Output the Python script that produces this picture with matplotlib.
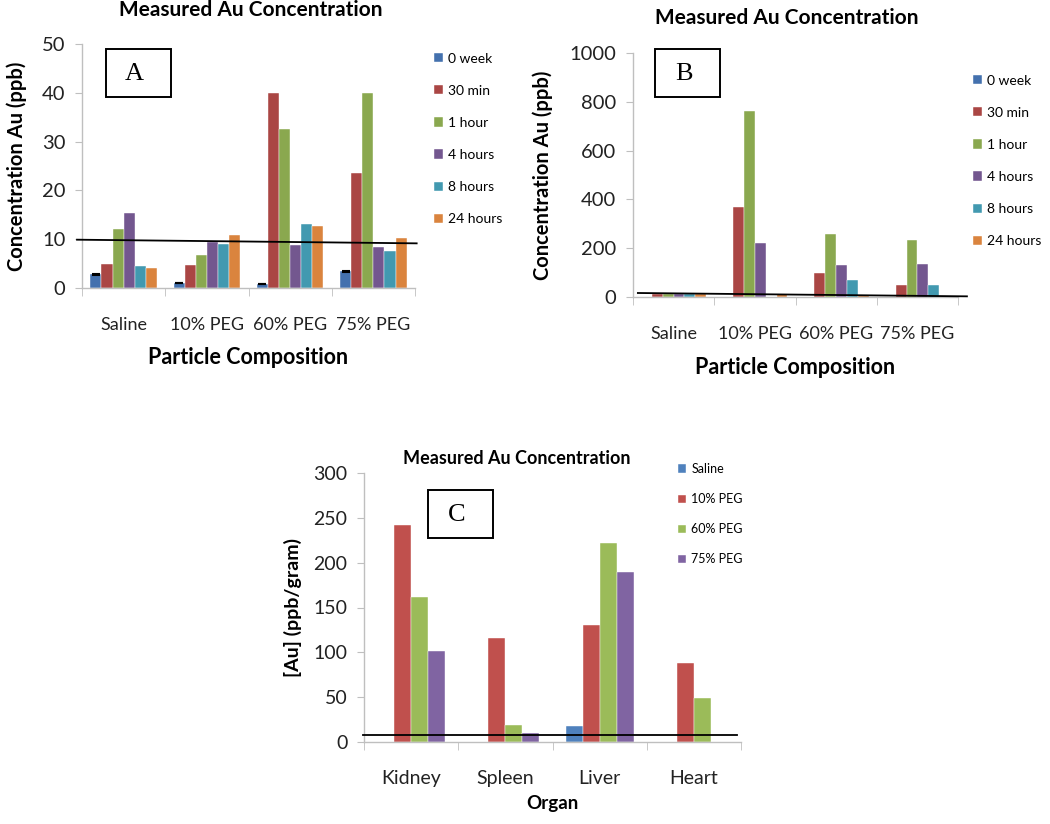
import matplotlib
matplotlib.use("Agg")
import matplotlib.pyplot as plt
from matplotlib.patches import Rectangle
import numpy as np

plt.rcParams['font.family'] = ['Lato', 'DejaVu Sans']

W, H = 1050, 824

# ---------------- data ----------------
compositions = ["Saline", "10% PEG", "60% PEG", "75% PEG"]
times = ["0 week", "30 min", "1 hour", "4 hours", "8 hours", "24 hours"]

a_0week = [2.8, 1.0, 0.8, 3.4]
a_30min = [5.0, 4.8, 40.0, 23.5]
a_1hour = [12.0, 6.7, 32.6, 40.0]
a_4hours = [15.3, 9.5, 8.9, 8.4]
a_8hours = [4.6, 9.0, 13.1, 7.5]
a_24hours = [4.1, 10.8, 12.7, 10.3]
a_0week_err = [0.1, 0.0, 0.0, 0.1]
a_line_x = [-0.56, 3.52]
a_line_y = [9.9, 9.15]

b_0week = [0, 0, 0, 0]
b_30min = [13, 367, 99, 51]
b_1hour = [13, 763, 260, 233]
b_4hours = [13, 223, 133, 134]
b_8hours = [13, 0, 71, 48]
b_24hours = [13, 14, 10, 5]
b_line_x = [-0.44, 3.61]
b_line_y = [16.4, 2.7]

organs = ["Kidney", "Spleen", "Liver", "Heart"]
groups_c = ["Saline", "10% PEG", "60% PEG", "75% PEG"]
c_saline = [0, 0, 17.5, 0]
c_10peg = [242, 116, 130, 88.5]
c_60peg = [161.5, 19, 222, 49]
c_75peg = [101, 10, 189.5, 0]
c_line_x = [-0.51, 3.46]
c_line_y = [8.2, 8.2]

colors_ab = ["#4471AE", "#AA4644", "#8AA84F", "#73578F", "#4299B0", "#DA843E"]
colors_c = ["#4F81BD", "#C0504D", "#9BBB59", "#8064A2"]

fig = plt.figure(figsize=(W / 100, H / 100), dpi=100)


def px_axes(l, r, t, b):
    return fig.add_axes([l / W, 1 - b / H, (r - l) / W, (b - t) / H])


def style_axes(ax, ymax, ystep, ysize, xsize, xpad):
    ax.set_xlim(-0.5, 3.5)
    ax.set_ylim(0, ymax)
    ax.set_yticks(np.arange(0, ymax + ystep / 2, ystep))
    for s in ["top", "right"]:
        ax.spines[s].set_visible(False)
    for s in ["left", "bottom"]:
        ax.spines[s].set_color("#BFBFBF")
        ax.spines[s].set_linewidth(1.0)
    ax.tick_params(axis="y", length=5, color="#BFBFBF", labelsize=ysize,
                   labelcolor="#222222", pad=7)
    ax.set_xticks(np.arange(4))
    ax.set_xticks(np.arange(-0.5, 4, 1), minor=True)
    ax.tick_params(axis="x", which="major", length=0, labelsize=xsize,
                   labelcolor="#222222", pad=xpad)
    ax.tick_params(axis="x", which="minor", length=6, color="#BFBFBF")


def label_box(l, t, w, h, letter):
    fig.add_artist(Rectangle((l / W, 1 - (t + h) / H), w / W, h / H,
                             transform=fig.transFigure, fill=False,
                             edgecolor="black", linewidth=1.4))
    fig.text((l + w / 2 - 4) / W, 1 - (t + h / 2 + 1) / H, letter,
             family="Liberation Serif", fontsize=19, ha="center", va="center")


def grouped(ax, series, names, width, cols, errs=None):
    n = len(series)
    x = np.arange(4)
    for i, (vals, nm) in enumerate(zip(series, names)):
        off = (i - (n - 1) / 2) * width
        yerr = errs if (errs is not None and i == 0) else None
        ax.bar(x + off, vals, width, color=cols[i], label=nm,
               edgecolor="white", linewidth=0.3, yerr=yerr,
               error_kw=dict(ecolor="black", capsize=3, elinewidth=0.8, capthick=1.5),
               zorder=2)


def set_labels_px(ax, l, r, t, b, ylab_x, xlab_y):
    ax.yaxis.set_label_coords((ylab_x - l) / (r - l), 0.5)
    ax.xaxis.set_label_coords(0.5, -(xlab_y - b) / (b - t))


# ---------------- Panel A ----------------
axA = px_axes(82, 415, 44, 288)
style_axes(axA, 50, 10, 14.5, 13, 21)
grouped(axA, [a_0week, a_30min, a_1hour, a_4hours, a_8hours, a_24hours], times,
        0.8 / 6, colors_ab, errs=a_0week_err)
axA.set_xticklabels(compositions)
axA.plot(a_line_x, a_line_y, color="black", lw=1.3, clip_on=False, zorder=3)
axA.set_ylabel("Concentration Au (ppb)", fontsize=14.5, fontweight="bold", va="center")
axA.set_xlabel("Particle Composition", fontsize=15.5, fontweight="bold", va="center")
set_labels_px(axA, 82, 415, 44, 288, 17, 358)
fig.text(251 / W, 1 - 10 / H, "Measured Au Concentration", fontsize=15,
         fontweight="bold", ha="center", va="center")
axA.legend(loc="upper left", bbox_to_anchor=(428 / W, 1 - 47 / H),
           bbox_transform=fig.transFigure, frameon=False, fontsize=10,
           handlelength=0.65, handleheight=0.65, handletextpad=0.4,
           labelspacing=1.45, borderaxespad=0)
label_box(106, 49, 65, 48, "A")

# ---------------- Panel B ----------------
axB = px_axes(633, 958, 53, 297)
style_axes(axB, 1000, 200, 14.5, 13, 21)
grouped(axB, [b_0week, b_30min, b_1hour, b_4hours, b_8hours, b_24hours], times,
        0.8 / 6, colors_ab)
axB.set_xticklabels(compositions)
axB.plot(b_line_x, b_line_y, color="black", lw=1.3, clip_on=False, zorder=3)
axB.set_ylabel("Concentration Au (ppb)", fontsize=14.5, fontweight="bold", va="center")
axB.set_xlabel("Particle Composition", fontsize=15.5, fontweight="bold", va="center")
set_labels_px(axB, 633, 958, 53, 297, 543, 367)
fig.text(787 / W, 1 - 18 / H, "Measured Au Concentration", fontsize=15,
         fontweight="bold", ha="center", va="center")
axB.legend(loc="upper left", bbox_to_anchor=(967 / W, 1 - 69 / H),
           bbox_transform=fig.transFigure, frameon=False, fontsize=10,
           handlelength=0.65, handleheight=0.65, handletextpad=0.4,
           labelspacing=1.45, borderaxespad=0)
label_box(655, 49, 65, 48, "B")

# ---------------- Panel C ----------------
axC = px_axes(364, 741, 473, 742)
style_axes(axC, 300, 50, 14, 14, 20)
grouped(axC, [c_saline, c_10peg, c_60peg, c_75peg], groups_c, 0.18, colors_c)
axC.set_xticklabels(organs)
axC.plot(c_line_x, c_line_y, color="black", lw=1.3, clip_on=False, zorder=3)
axC.set_ylabel("[Au] (ppb/gram)", fontsize=14, fontweight="bold", va="center")
axC.set_xlabel("Organ", fontsize=13.5, fontweight="bold", va="center")
set_labels_px(axC, 364, 741, 473, 742, 293, 803)
fig.text(517 / W, 1 - 458 / H, "Measured Au Concentration", fontsize=13,
         fontweight="bold", ha="center", va="center")
axC.legend(loc="upper left", bbox_to_anchor=(673 / W, 1 - 458 / H),
           bbox_transform=fig.transFigure, frameon=False, fontsize=9,
           handlelength=0.65, handleheight=0.65, handletextpad=0.4,
           labelspacing=1.45, borderaxespad=0)
label_box(428, 490, 65, 48, "C")

fig.savefig("out.png", dpi=100)
